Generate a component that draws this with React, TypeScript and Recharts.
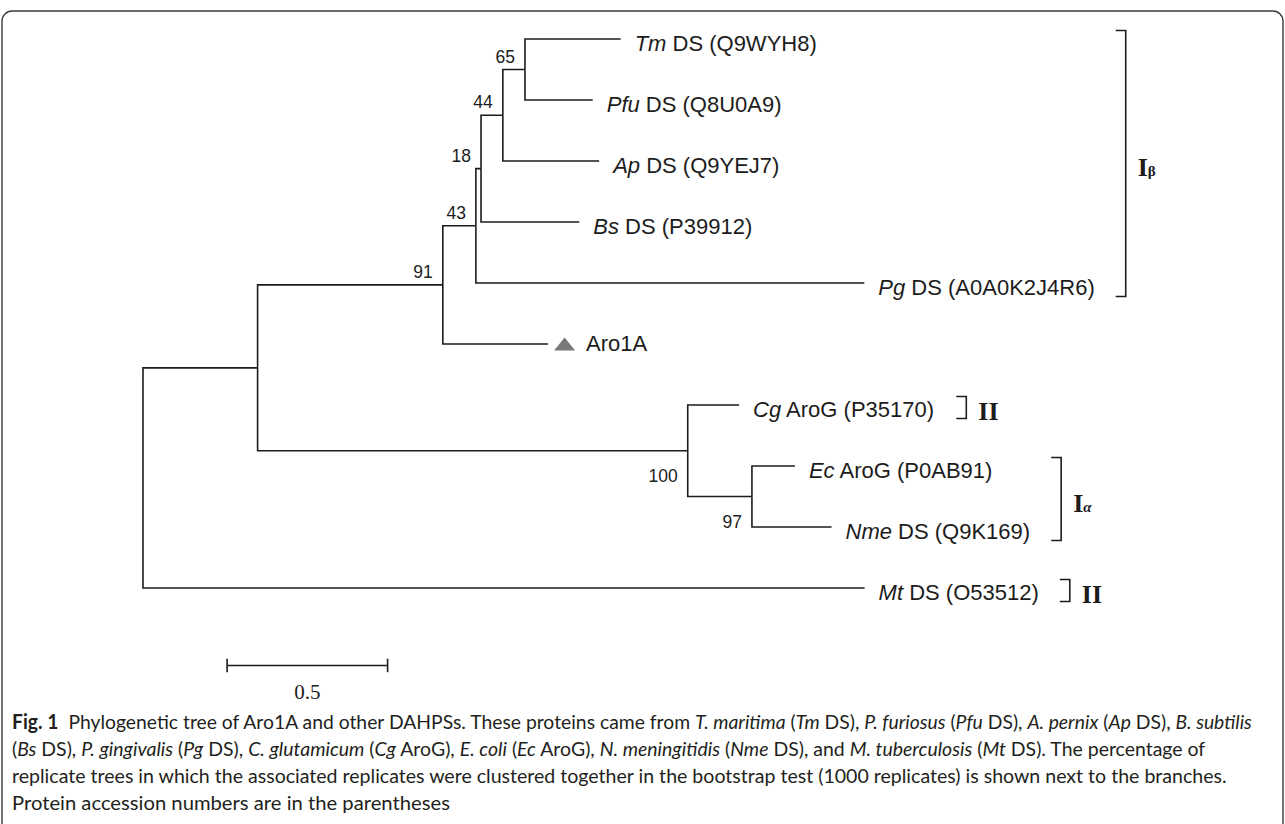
import React, { useMemo } from 'react'
import { ScatterChart, Scatter, XAxis, YAxis } from 'recharts'

// tree nodes: id, parent, branch length (substitutions per site)
const nodeIds = ['root', 'n1', 'n91', 'n43', 'n18', 'n44', 'n65', 'Tm', 'Pfu', 'Ap', 'Bs', 'Pg', 'Aro1A', 'n100', 'Cg', 'n97', 'Ec', 'Nme', 'Mt']
const nodeParents = [null, 'root', 'n1', 'n91', 'n43', 'n18', 'n44', 'n65', 'n65', 'n44', 'n18', 'n43', 'n91', 'n1', 'n100', 'n100', 'n97', 'n97', 'root']
const branchLengths = [0, 0.357, 0.577, 0.103, 0.016, 0.068, 0.069, 0.298, 0.211, 0.3, 0.306, 1.21, 0.328, 1.34, 0.16, 0.2, 0.134, 0.248, 2.248]

// leaves top to bottom
const leafIds = ['Tm', 'Pfu', 'Ap', 'Bs', 'Pg', 'Aro1A', 'Cg', 'Ec', 'Nme', 'Mt']
const leafAbbr = ['Tm', 'Pfu', 'Ap', 'Bs', 'Pg', '', 'Cg', 'Ec', 'Nme', 'Mt']
const leafRest = [' DS (Q9WYH8)', ' DS (Q8U0A9)', ' DS (Q9YEJ7)', ' DS (P39912)', ' DS (A0A0K2J4R6)', 'Aro1A', ' AroG (P35170)', ' AroG (P0AB91)', ' DS (Q9K169)', ' DS (O53512)']
const queryLeaf = 'Aro1A'

// bootstrap support
const supportNodes = ['n65', 'n44', 'n18', 'n43', 'n91', 'n100', 'n97']
const supportValues = [65, 44, 18, 43, 91, 100, 97]
const supportBelow = [false, false, false, false, false, true, true]

// clades
const cladeMain = ['I', 'II', 'I', 'II']
const cladeSub = ['β', '', 'α', '']
const cladeFirst = ['Tm', 'Cg', 'Ec', 'Mt']
const cladeLast = ['Pg', 'Cg', 'Nme', 'Mt']

const scaleLength = 0.5

const captionLines = [
  '**Fig. 1**  Phylogenetic tree of Aro1A and other DAHPSs. These proteins came from *T. maritima* (*Tm* DS), *P. furiosus* (*Pfu* DS), *A. pernix* (*Ap* DS), *B. subtilis*',
  '(*Bs* DS), *P. gingivalis* (*Pg* DS), *C. glutamicum* (*Cg* AroG), *E. coli* (*Ec* AroG), *N. meningitidis* (*Nme* DS), and *M. tuberculosis* (*Mt* DS). The percentage of',
  'replicate trees in which the associated replicates were clustered together in the bootstrap test (1000 replicates) is shown next to the branches.',
  'Protein accession numbers are in the parentheses',
]
const captionWidths = [1243, 1196, 1217, 438]

// layout
const W = 1285
const H = 824
const ROOT_PX = 143
const PX_X = 321
const TOP_PX = 39
const ROW_PX = 61
const X_DOMAIN = [-ROOT_PX / PX_X, (W - ROOT_PX) / PX_X]
const Y_DOMAIN = [-TOP_PX / ROW_PX, (H - TOP_PX) / ROW_PX]
const INK = '#1c1c1c'
const SANS = '"Liberation Sans", Arial, sans-serif'
const SERIF = '"Liberation Serif", "Times New Roman", serif'
const CAPTION_FONT = 'Lato'
const CAPTION_SIZE = 20
const LABEL_SIZE = 22

let ctx: CanvasRenderingContext2D | null = null
function measure(s: string, font: string) {
  if (!ctx) ctx = document.createElement('canvas').getContext('2d')
  if (!ctx) return s.length * 10
  ctx.font = font
  return ctx.measureText(s).width
}
const labelWidth = (s: string, italic: boolean) => measure(s, `${italic ? 'italic ' : ''}${LABEL_SIZE}px "Liberation Sans"`)

function buildTree() {
  const depth: Record<string, number> = {}
  const row: Record<string, number> = {}
  const children: Record<string, string[]> = {}
  nodeIds.forEach((id, i) => {
    const p = nodeParents[i]
    if (p) (children[p] = children[p] || []).push(id)
  })
  const getDepth = (id: string): number => {
    if (depth[id] !== undefined) return depth[id]
    const i = nodeIds.indexOf(id)
    const p = nodeParents[i]
    depth[id] = (p ? getDepth(p) : 0) + branchLengths[i]
    return depth[id]
  }
  const getRow = (id: string): number => {
    if (row[id] !== undefined) return row[id]
    const li = leafIds.indexOf(id)
    if (li >= 0) row[id] = li
    else {
      const c = children[id]
      row[id] = c.reduce((s, k) => s + getRow(k), 0) / c.length
    }
    return row[id]
  }
  nodeIds.forEach(id => { getDepth(id); getRow(id) })
  return { depth, row }
}

function splitCaption(line: string) {
  return line.split(/(\*\*[^*]+\*\*|\*[^*]+\*)/).filter(Boolean).map(p => {
    if (p.startsWith('**')) return { t: p.slice(2, -2), b: true, i: false }
    if (p.startsWith('*')) return { t: p.slice(1, -1), b: false, i: true }
    return { t: p, b: false, i: false }
  })
}

const noDot = () => <g />

export default function App() {
  const { depth, row } = useMemo(buildTree, [])

  const edges = nodeIds
    .map((id, i) => {
      const p = nodeParents[i]
      if (!p) return null
      return [
        { x: depth[p], y: row[p] },
        { x: depth[p], y: row[id] },
        { x: depth[id], y: row[id] },
      ]
    })
    .filter(Boolean) as { x: number; y: number }[][]

  const leaves = leafIds.map((id, i) => ({ x: depth[id], y: row[id], abbr: leafAbbr[i], rest: leafRest[i], id }))

  const supports = supportNodes.map((id, i) => ({ x: depth[id], y: row[id], v: supportValues[i], below: supportBelow[i] }))

  const labelEnd = (id: string) => {
    const i = leafIds.indexOf(id)
    return ROOT_PX + depth[id] * PX_X + 14 + labelWidth(leafAbbr[i], true) + labelWidth(leafRest[i], false)
  }
  const clades = cladeMain.map((m, i) => {
    const a = leafIds.indexOf(cladeFirst[i])
    const b = leafIds.indexOf(cladeLast[i])
    let end = 0
    for (let k = a; k <= b; k++) end = Math.max(end, labelEnd(leafIds[k]))
    return { x: (end + 31 - ROOT_PX) / PX_X, y: (a + b) / 2, span: b - a, main: m, sub: cladeSub[i] }
  })

  const scaleStart = 0.262
  const scaleRow = 10.27
  const scaleBar = [{ x: scaleStart, y: scaleRow }, { x: scaleStart + scaleLength, y: scaleRow }]
  const tickHalf = 0.11
  const scaleTicks = [scaleStart, scaleStart + scaleLength].map(x => [{ x, y: scaleRow - tickHalf }, { x, y: scaleRow + tickHalf }])

  const leafShape = (props: any) => {
    const { cx, cy, payload } = props
    if (payload.id === queryLeaf) {
      return (
        <g>
          <polygon points={`${cx + 6},${cy + 6.5} ${cx + 27},${cy + 6.5} ${cx + 16.5},${cy - 6.5}`} fill="#787878" />
          <text x={cx + 38} y={cy + 7} fontFamily={SANS} fontSize={LABEL_SIZE} fill={INK}>{payload.rest}</text>
        </g>
      )
    }
    return (
      <text x={cx + 14} y={cy + 11.5} fontFamily={SANS} fontSize={LABEL_SIZE} fill={INK} style={{ whiteSpace: 'pre' }}>
        <tspan fontStyle="italic">{payload.abbr}</tspan>
        <tspan>{payload.rest}</tspan>
      </text>
    )
  }

  const supportShape = (props: any) => {
    const { cx, cy, payload } = props
    return (
      <text x={cx - 10} y={payload.below ? cy + 31 : cy - 7} textAnchor="end" fontFamily={SANS} fontSize={17.5} fill={INK}>
        {payload.v}
      </text>
    )
  }

  const cladeShape = (props: any) => {
    const { cx, cy, payload } = props
    const c = cy + 2.5
    const half = (payload.span * ROW_PX) / 2 + 11
    return (
      <g>
        <path d={`M${cx - 10},${c - half} H${cx} V${c + half} H${cx - 10}`} fill="none" stroke={INK} strokeWidth={1.6} />
        <text x={cx + 12} y={cy + 6 + 9} fontFamily={SERIF} fontWeight="bold" fill={INK}>
          <tspan fontSize={26}>{payload.main}</tspan>
          {payload.sub ? <tspan fontSize={15} fontStyle={payload.sub === 'α' ? 'italic' : 'normal'}>{payload.sub}</tspan> : null}
        </text>
      </g>
    )
  }

  const scaleLabelShape = (props: any) => (
    <text x={props.cx} y={props.cy + 34} textAnchor="middle" fontFamily={SERIF} fontSize={21} fill={INK}>
      {scaleLength}
    </text>
  )

  const captions = captionLines.map((l, i) => {
    const segs = splitCaption(l)
    const natural = segs.reduce(
      (s, g) => s + measure(g.t, `${g.i ? 'italic ' : ''}${g.b ? 'bold ' : ''}${CAPTION_SIZE}px "${CAPTION_FONT}"`),
      0
    )
    return { segs, sx: captionWidths[i] / natural }
  })

  return (
    <div style={{ position: 'relative', width: W, height: H, background: '#fff', overflow: 'hidden' }}>
      <style>{'body{margin:0}'}</style>
      <ScatterChart width={W} height={H} margin={{ top: 0, right: 0, bottom: 0, left: 0 }}>
        <XAxis type="number" dataKey="x" domain={X_DOMAIN} hide />
        <YAxis type="number" dataKey="y" domain={Y_DOMAIN} reversed hide />
        {edges.map((e, i) => (
          <Scatter key={'e' + i} data={e} fill={INK} line={{ strokeWidth: 1.6 }} shape={noDot} isAnimationActive={false} />
        ))}
        <Scatter data={leaves} shape={leafShape} isAnimationActive={false} />
        <Scatter data={supports} shape={supportShape} isAnimationActive={false} />
        <Scatter data={clades} shape={cladeShape} isAnimationActive={false} />
        <Scatter data={scaleBar} fill={INK} line={{ strokeWidth: 1.6 }} shape={noDot} isAnimationActive={false} />
        {scaleTicks.map((t, i) => (
          <Scatter key={'t' + i} data={t} fill={INK} line={{ strokeWidth: 1.6 }} shape={noDot} isAnimationActive={false} />
        ))}
        <Scatter data={[{ x: scaleStart + scaleLength / 2, y: scaleRow }]} shape={scaleLabelShape} isAnimationActive={false} />
      </ScatterChart>
      <svg width={W} height={H} style={{ position: 'absolute', left: 0, top: 0, pointerEvents: 'none' }}>
        <rect x={2} y={11} width={W - 4} height={H + 40} rx={10} fill="none" stroke="#3a3a3a" strokeWidth={1.4} />
        {captions.map((c, i) => (
          <g key={i} transform={`translate(12, ${729 + i * 27}) scale(${c.sx}, 1)`}>
            <text x={0} y={0} fontFamily={`"${CAPTION_FONT}", "Open Sans", sans-serif`} fontSize={CAPTION_SIZE} fill="#231f20" style={{ whiteSpace: 'pre' }}>
              {c.segs.map((g, k) => (
                <tspan key={k} fontWeight={g.b ? 'bold' : 'normal'} fontStyle={g.i ? 'italic' : 'normal'}>{g.t}</tspan>
              ))}
            </text>
          </g>
        ))}
      </svg>
    </div>
  )
}
